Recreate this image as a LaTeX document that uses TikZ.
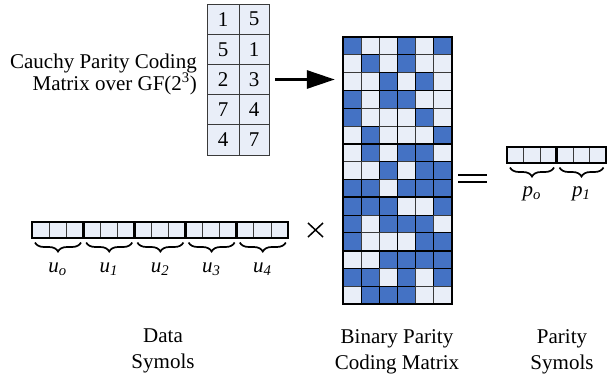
\documentclass[tikz,border=0pt]{standalone}
\usepackage{fontspec}
\setmainfont{Liberation Serif}
\usetikzlibrary{arrows.meta,decorations.pathreplacing,calc}
\definecolor{cellblue}{HTML}{4472C4}
\definecolor{cellpale}{HTML}{E9EEF8}
\definecolor{gridgray}{HTML}{3A3A3A}
\begin{document}
\begin{tikzpicture}[x=1pt,y=-1pt,
  txt/.style={font=\fontsize{21}{26}\selectfont, inner sep=0pt},
  tcell/.style={fill=cellpale, draw=gridgray, line width=0.9pt},
  m0/.style={fill=cellpale, draw=gridgray, line width=0.8pt},
  m1/.style={fill=cellblue, draw=black, line width=0.8pt},
  vcell/.style={fill=cellpale, draw=gridgray, line width=0.8pt},
  vframe/.style={draw=black, line width=2.8pt},
  thickframe/.style={draw=black, line width=2.8pt},
  blockline/.style={draw=black, line width=1.8pt},
  bracestyle/.style={decorate, decoration={brace, mirror, amplitude=9pt, aspect=0.5}, line width=1.7pt},
  symlbl/.style={font=\fontsize{21}{22}\selectfont\itshape, inner sep=0pt, anchor=base},
  arrowline/.style={line width=3pt, -{Triangle[length=28pt,width=18pt]}},
  opline/.style={line width=1.5pt}
]
\useasboundingbox (0,0) rectangle (608,378);

% caption of the small matrix
\node[txt, align=right, anchor=north east, font=\fontsize{21}{22}\selectfont] (cauchylbl) at (197,53.7)
  {Cauchy Parity Coding\\Matrix over GF(2\textsuperscript{3})};

% small Cauchy matrix
\foreach \r/\a/\b in {0/1/5,1/5/1,2/2/3,3/7/4,4/4/7} {
  \pgfmathsetmacro{\ya}{4+30.2*\r}
  \pgfmathsetmacro{\yb}{4+30.2*(\r+1)}
  \draw[tcell] (207,\ya) rectangle (239,\yb);
  \draw[tcell] (239,\ya) rectangle (269,\yb);
  \node[txt] (ta\r) at (223,{(\ya+\yb)/2}) {\a};
  \node[txt] (tb\r) at (254,{(\ya+\yb)/2}) {\b};
}
\node[inner sep=0pt, minimum width=62pt, minimum height=151pt] (ctab) at (238,79.5) {};

% binary matrix
\foreach \r/\row in {0/{1,0,0,1,0,1},1/{0,1,0,1,0,0},2/{0,0,1,0,1,0},
                     3/{1,0,1,1,0,0},4/{1,0,0,0,1,0},5/{0,1,0,0,0,1},
                     6/{0,1,0,1,1,0},7/{0,0,1,0,1,1},8/{1,1,0,1,1,1},
                     9/{1,1,1,0,0,1},10/{1,0,1,1,1,0},11/{1,0,0,0,1,1},
                     12/{0,0,1,1,1,1},13/{1,1,0,1,0,1},14/{0,1,1,1,0,0}} {
  \foreach \v [count=\c from 0] in \row {
    \draw[m\v] ({343+18.1667*\c},{37+17.8*\r}) rectangle ++(18.1667,17.8);
  }
}
\draw[blockline] (397.5,37) -- (397.5,304);
\foreach \k in {3,6,9,12} \draw[blockline] (343,{37+17.8*\k}) -- (452,{37+17.8*\k});
\draw[thickframe] (343,37) rectangle (452,304);
\node[inner sep=0pt, minimum width=109pt, minimum height=267pt] (bmat) at (397.5,170.5) {};

% arrow
\draw[arrowline, shorten <=6pt, shorten >=8pt] (ctab.east |- ta2) -- (bmat.west |- ta2);

% data symbols vector
\foreach \g/\s in {0/o,1/1,2/2,3/3,4/4} {
  \pgfmathsetmacro{\gx}{32+51.2*\g}
  \foreach \c in {0,1,2} \draw[vcell] ({\gx+17.0667*\c},222) rectangle ++(17.0667,16);
  \draw[vframe] (\gx,222) rectangle ++(51.2,16);
  \draw[bracestyle] ({\gx+3},242.5) -- ({\gx+49},242.5);
  \node[symlbl] (u\g) at ({\gx+25.6},272) {u\textsubscript{\s}};
}

% multiplication sign
\coordinate (tA) at (308,223);
\coordinate (tB) at (323,237);
\coordinate (tC) at (308,237);
\coordinate (tD) at (323,223);
\draw[opline] (tA) -- (tB);
\draw[opline] (tC) -- (tD);

% equals sign
\coordinate (eA) at (458,175);
\coordinate (eB) at (487,175);
\coordinate (eC) at (458,182);
\coordinate (eD) at (487,182);
\draw[opline] (eA) -- (eB);
\draw[opline] (eC) -- (eD);

% parity symbols vector
\foreach \g/\s in {0/o,1/1} {
  \pgfmathsetmacro{\gx}{507+49.5*\g}
  \foreach \c in {0,1,2} \draw[vcell] ({\gx+16.5*\c},147) rectangle ++(16.5,16);
  \draw[vframe] (\gx,147) rectangle ++(49.5,16);
  \draw[bracestyle] ({\gx+3},167.5) -- ({\gx+47},167.5);
  \node[symlbl] (p\g) at ({\gx+24.75},196) {p\textsubscript{\s}};
}

% bottom captions
\node[txt, align=center, anchor=north] (datalbl) at (163,329) {Data\\Symols};
\node[txt, align=center, anchor=north] (binlbl) at (397,329) {Binary Parity\\Coding Matrix};
\node[txt, align=center, anchor=north] (parlbl) at (562,329) {Parity\\Symols};
\end{tikzpicture}
\end{document}
